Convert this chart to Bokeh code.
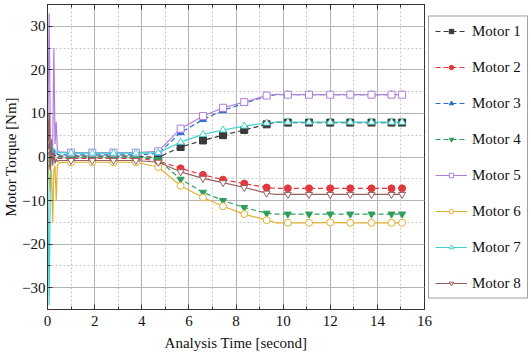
from bokeh.plotting import figure
from bokeh.models import (Legend, LegendItem, LinearAxis, SingleIntervalTicker, Range1d,
                          CustomJSTickFormatter)
from bokeh.embed import file_html
from bokeh.resources import INLINE

# ---- data ----
t = [0.0, 0.07, 0.12, 0.17, 0.22, 0.27, 0.32, 0.37, 0.42, 0.5,
     1.0, 1.9, 2.8, 3.75, 4.7, 5.65, 6.6, 7.45, 8.35, 9.3, 9.7,
     10.2, 11.1, 12.0, 12.85, 13.75, 14.6, 15.05]
marker_idx = [10, 11, 12, 13, 14, 15, 16, 17, 18, 19,
              21, 22, 23, 24, 25, 26, 27]

motor1 = [0, 10, -2, 1, 0.5, 0.8, 0.3, 0.5, 0.2, 0.2,
          0.2, 0.2, 0.2, 0.2, -0.1, 2.3, 3.8, 5.0, 6.2, 7.5, 8.0,
          7.9, 7.9, 7.9, 7.9, 7.9, 7.9, 7.9]
motor2 = [0, -3, 1, -1, -0.5, -0.6, -0.3, -0.5, -0.3, -0.3,
          -0.3, -0.3, -0.3, -0.3, -0.9, -2.6, -4.1, -5.2, -6.1, -7.0, -7.2,
          -7.2, -7.2, -7.2, -7.2, -7.2, -7.2, -7.2]
motor3 = [0, 3, 2, 1, 0.5, 2, 0.8, 1.2, 0.6, 0.5,
          0.5, 0.5, 0.5, 0.5, 0.8, 5.6, 8.6, 10.7, 12.3, 14.0, 14.3,
          14.3, 14.3, 14.3, 14.3, 14.3, 14.3, 14.3]
motor4 = [0, -2, 1, -0.5, 0.3, -0.3, 0.2, 0.0, 0.0, 0.0,
          0.0, 0.0, 0.0, 0.0, -0.6, -5.1, -8.1, -10.0, -11.6, -12.9, -13.1,
          -13.1, -13.1, -13.1, -13.1, -13.1, -13.1, -13.1]
motor5 = [0, 33, 5, 2, 1.5, 25, 3, 8, 1.5, 1.2,
          1.0, 1.0, 1.0, 1.0, 1.3, 6.5, 9.4, 11.3, 12.6, 14.1, 14.4,
          14.3, 14.3, 14.3, 14.3, 14.3, 14.3, 14.3]
motor6 = [0, -5, -8, -3, -15, -3, -2, -10, -2, -1.3,
          -1.2, -1.2, -1.2, -1.2, -2.3, -6.6, -9.3, -11.3, -13.1, -14.5, -15.1,
          -15.1, -15.1, -15.0, -15.1, -15.1, -15.1, -15.1]
motor7 = [0, -34, -5, 3, 1, 2, 1.5, 1.2, 1.0, 1.0,
          0.9, 0.9, 0.9, 0.9, 1.0, 3.4, 5.2, 6.2, 7.1, 7.8, 8.0,
          8.0, 8.0, 8.0, 8.0, 8.0, 8.0, 8.0]
motor8 = [0, 10, -3, 4, -2, 1, -1.5, -0.5, -1.0, -0.8,
          -0.8, -0.8, -0.8, -0.8, -1.2, -3.4, -4.9, -5.9, -7.0, -8.3, -8.6,
          -8.6, -8.6, -8.6, -8.6, -8.6, -8.6, -8.6]

names = ["Motor 1", "Motor 2", "Motor 3", "Motor 4",
         "Motor 5", "Motor 6", "Motor 7", "Motor 8"]
series = [motor1, motor2, motor3, motor4, motor5, motor6, motor7, motor8]
colors = ["#3a3a3a", "#e0393e", "#2a6fd0", "#2ca05a",
          "#b07fdc", "#e0b030", "#40d0d0", "#9a6060"]
markers = ["square", "circle", "triangle", "inverted_triangle",
           "square", "circle", "triangle", "inverted_triangle"]
filled = [True, True, True, True, False, False, False, False]
dashes = ["5 3", "5 3", "5 3", "5 3", "solid", "solid", "solid", "solid"]

x_ticks_interval = 2
y_ticks_interval = 10

FONT = "Liberation Serif"

p = figure(frame_width=377, frame_height=305, output_backend="svg", toolbar_location=None,
           x_range=Range1d(0, 16), y_range=Range1d(-35, 35),
           min_border_left=0, min_border_top=4, min_border_right=0, min_border_bottom=0)

p.outline_line_color = "#333333"
p.outline_line_width = 1

# axes
p.xaxis.ticker = SingleIntervalTicker(interval=x_ticks_interval, num_minor_ticks=2)
p.yaxis.ticker = SingleIntervalTicker(interval=y_ticks_interval, num_minor_ticks=2)
for ax in [p.xaxis[0], p.yaxis[0]]:
    ax.major_tick_in = 5
    ax.major_tick_out = 0
    ax.minor_tick_in = 3
    ax.minor_tick_out = 0
    ax.axis_line_color = "#333333"
    ax.major_tick_line_color = "#333333"
    ax.minor_tick_line_color = "#333333"
    ax.major_label_text_font = FONT
    ax.major_label_text_font_size = "15px"
    ax.major_label_text_color = "#111111"
    ax.axis_label_text_font = FONT
    ax.axis_label_text_font_size = "15px"
    ax.axis_label_text_font_style = "normal"
    ax.axis_label_text_color = "#111111"
p.xaxis.axis_label = "Analysis Time [second]"
p.yaxis.axis_label = "Motor Torque [Nm]"
p.xaxis.major_label_standoff = 6
p.xaxis.axis_label_standoff = 6
p.yaxis.major_label_standoff = 2
p.yaxis.axis_label_standoff = 0

# mirrored top axis (ticks only)
blank = CustomJSTickFormatter(code="return ''")
top = LinearAxis(ticker=SingleIntervalTicker(interval=x_ticks_interval, num_minor_ticks=2),
                 formatter=blank)
top.major_tick_in = 5
top.major_tick_out = 0
top.minor_tick_in = 3
top.minor_tick_out = 0
top.major_label_standoff = 0
top.axis_line_color = "#333333"
top.major_tick_line_color = "#333333"
top.minor_tick_line_color = "#333333"
p.add_layout(top, "above")

# grid
p.xgrid.grid_line_color = "#b4b4b4"
p.ygrid.grid_line_color = "#b4b4b4"
p.xgrid.minor_grid_line_color = "#c8c8c8"
p.ygrid.minor_grid_line_color = "#c8c8c8"
p.xgrid.minor_grid_line_dash = "2 2"
p.ygrid.minor_grid_line_dash = "2 2"

items = []
for name, vals, col, mk, fl, dash in zip(names, series, colors, markers, filled, dashes):
    ln = p.line(t, vals, line_color=col, line_width=1.2, line_dash=dash)
    mx = [t[i] for i in marker_idx]
    my = [vals[i] for i in marker_idx]
    sc = p.scatter(mx, my, marker=mk, size=7, line_color=col, line_width=1,
                   fill_color=col if fl else "white")
    items.append(LegendItem(label=name, renderers=[ln, sc]))

legend = Legend(items=items, location="center_left", orientation="vertical",
                glyph_width=32, glyph_height=11, label_height=11, spacing=19,
                padding=6, margin=4, label_standoff=5,
                label_text_font=FONT, label_text_font_size="15px",
                label_text_color="#111111",
                border_line_color="#444444", border_line_width=1,
                background_fill_alpha=1)
p.add_layout(legend, "right")

open("out.html", "w").write(file_html(p, INLINE))
